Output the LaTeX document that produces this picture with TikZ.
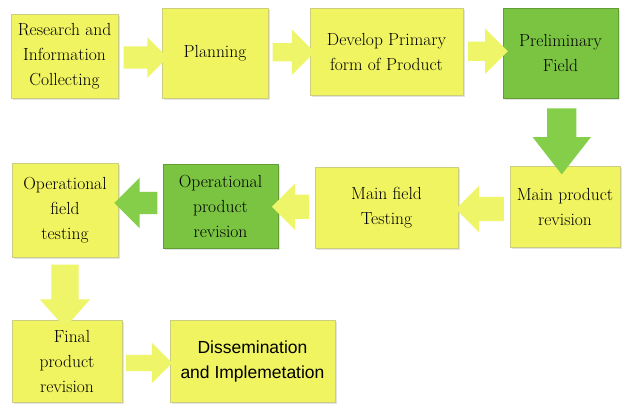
\documentclass[tikz,border=0pt]{standalone}
\usepackage{fontspec}
\newfontfamily\arialf{Liberation Sans}
\usetikzlibrary{shapes.arrows,shadows,calc}
\definecolor{yel}{RGB}{240,244,96}
\definecolor{grn}{RGB}{122,196,66}
\definecolor{yelarr}{RGB}{238,245,105}
\definecolor{grnarr}{RGB}{132,206,74}
\begin{document}
\begin{tikzpicture}[x=1pt,y=-1pt,
  box/.style={rectangle, fill=yel, draw=yel!75!black!70, line width=0.3pt,
    inner sep=1pt, align=center, font=\rmfamily\fontsize{17.5}{25}\selectfont,
    drop shadow={shadow xshift=1.5pt, shadow yshift=-1.5pt, opacity=0.22}},
  gbox/.style={box, fill=grn, draw=grn!80!black},
  blk/.style={single arrow, fill=yelarr, draw=none},
  gblk/.style={blk, fill=grnarr}]
\useasboundingbox (0,0) rectangle (625,408);
\fill[white] (0,0) rectangle (625,408);

% boxes
\node[box, minimum width=107pt, minimum height=84pt] (b1) at (64.5,56) {Research and\\Information\\Collecting};
\node[box, minimum width=106pt, minimum height=90pt] (b2) at (215,53) {Planning};
\node[box, minimum width=153pt, minimum height=87pt] (b3) at (386.5,51.5) {Develop Primary\\form of Product};
\node[gbox, minimum width=115pt, minimum height=90pt] (b4) at (560.5,53) {Preliminary\\Field};
\node[box, minimum width=110pt, minimum height=81pt] (b5) at (565,206.5) {Main product\\revision};
\node[box, minimum width=143pt, minimum height=81pt] (b6) at (386.5,207.5) {Main field\\Testing};
\node[gbox, minimum width=115pt, minimum height=84pt] (b7) at (220.5,206) {Operational\\product\\revision};
\node[box, minimum width=106pt, minimum height=94pt] (b8) at (65,210) {Operational\\field\\testing};
\node[box, minimum width=110pt, minimum height=82pt] (b9) at (67,361) {\hspace*{10pt}Final\\product\\revision};
\node[box, minimum width=165pt, minimum height=82pt, font=\arialf\fontsize{17.5}{25}\selectfont] (b10) at (252.5,361) {Dissemination\\and Implemetation};

% block arrows
\node[blk, minimum height=44pt, inner sep=11pt, single arrow head extend=9pt]
  (a1) at ($(b1.east)!0.5!(b2.west)+(0,3)$) {};
\node[blk, minimum height=42pt, inner sep=9pt, single arrow head extend=13.5pt]
  (a2) at ($(b2.east)!0.5!(b3.west)$) {};
\node[blk, minimum height=40pt, inner sep=9.5pt, single arrow head extend=13pt]
  (a3) at ($(b3.east)!0.5!(b4.west)+(0,-1)$) {};
\node[gblk, minimum height=66pt, inner sep=14.5pt, single arrow head extend=14.5pt,
  single arrow tip angle=76, shape border rotate=270]
  (a4) at ($(b4.south)!0.5!(b5.north)+(-1,0)$) {};
\node[blk, minimum height=48pt, inner sep=12pt, single arrow head extend=11pt,
  shape border rotate=180]
  (a5) at ($(b5.west)!0.5!(b6.east)+(2,2)$) {};
\node[blk, minimum height=37pt, inner sep=12pt, single arrow head extend=11pt,
  shape border rotate=180]
  (a6) at ($(b6.west)!0.5!(b7.east)+(0,0)$) {};
\node[gblk, minimum height=43pt, inner sep=11pt, single arrow head extend=14pt,
  shape border rotate=180]
  (a7) at ($(b7.west)!0.5!(b8.east)+(1,-5)$) {};
\node[blk, minimum height=63pt, inner sep=13.5pt, single arrow head extend=11.5pt,
  single arrow tip angle=83, shape border rotate=270]
  (a8) at ($(b8.south)!0.5!(b9.north)+(-1,0)$) {};
\node[blk, minimum height=46pt, inner sep=8pt, single arrow head extend=12pt]
  (a9) at ($(b9.east)!0.5!(b10.west)+(-1,2)$) {};
\end{tikzpicture}
\end{document}
